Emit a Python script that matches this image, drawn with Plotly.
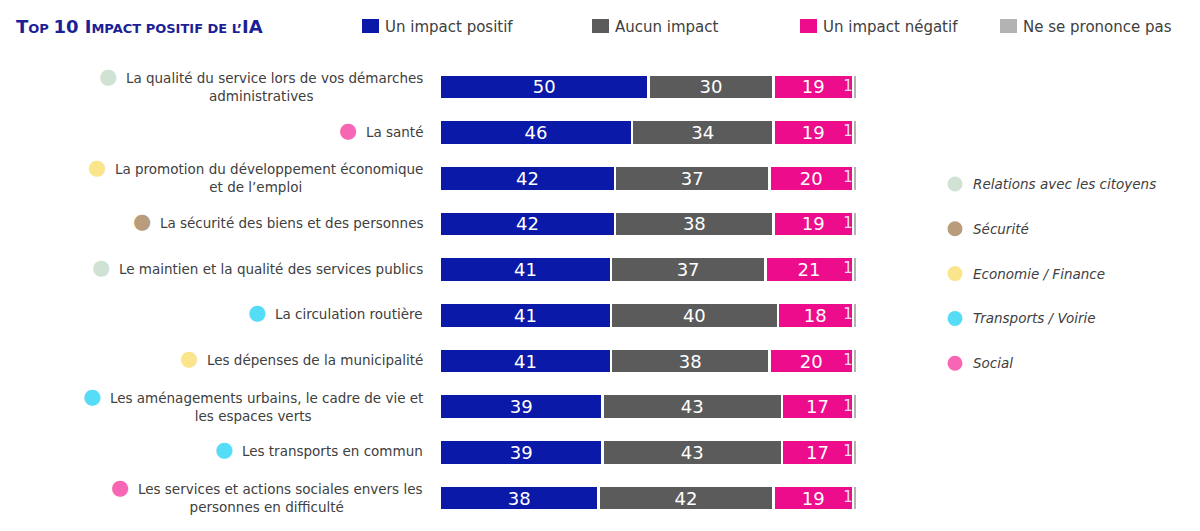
import plotly.graph_objects as go

W, H = 1200, 531

categories = [
    "La qualité du service lors de vos démarches<br>administratives",
    "La santé",
    "La promotion du développement économique<br>et de l’emploi",
    "La sécurité des biens et des personnes",
    "Le maintien et la qualité des services publics",
    "La circulation routière",
    "Les dépenses de la municipalité",
    "Les aménagements urbains, le cadre de vie et<br>les espaces verts",
    "Les transports en commun",
    "Les services et actions sociales envers les<br>personnes en difficulté",
]
category_theme = ["Relations avec les citoyens", "Social", "Economie / Finance", "Sécurité",
                  "Relations avec les citoyens", "Transports / Voirie", "Economie / Finance",
                  "Transports / Voirie", "Transports / Voirie", "Social"]

positif = [50, 46, 42, 42, 41, 41, 41, 39, 39, 38]
aucun = [30, 34, 37, 38, 37, 40, 38, 43, 43, 42]
negatif = [19, 19, 20, 19, 21, 18, 20, 17, 17, 19]
nsp = [1, 1, 1, 1, 1, 1, 1, 1, 1, 1]

series_names = ["Un impact positif", "Aucun impact", "Un impact négatif", "Ne se prononce pas"]
series_colors = ["#0a19a8", "#5b5b5b", "#ec0c8c", "#b3b3b3"]

theme_names = ["Relations avec les citoyens", "Sécurité", "Economie / Finance",
               "Transports / Voirie", "Social"]
theme_colors = ["#cfe2d4", "#b89c7b", "#fbe58c", "#55dcf7", "#f766b5"]
theme_color = dict(zip(theme_names, theme_colors))

FONT = "DejaVu Sans"
TXT = "#404040"

ypos = list(range(len(categories)))
fig = go.Figure()
for name, vals, col in zip(series_names, [positif, aucun, negatif, nsp], series_colors):
    show_text = name != "Ne se prononce pas"
    fig.add_trace(go.Bar(
        y=ypos, x=vals, orientation="h", name=name,
        marker=dict(color=col, line=dict(color="white", width=2.5)),
        text=[str(v) for v in vals] if show_text else None,
        textposition="inside", insidetextanchor="middle", constraintext="none",
        textfont=dict(family=FONT, size=18, color="white"),
        showlegend=False, hoverinfo="skip",
    ))

# small "1" labels for the "ne se prononce pas" share
cum3 = [a + b + c for a, b, c in zip(positif, aucun, negatif)]
fig.add_trace(go.Scatter(
    x=cum3, y=ypos, mode="text", text=[str(v) for v in nsp],
    textposition="middle left", textfont=dict(family=FONT, size=15, color="#f2dbe7"),
    showlegend=False, hoverinfo="skip",
))

x0p, x1p = 440, 857
ytop, ybot = 64, 521
fig.update_layout(
    width=W, height=H, margin=dict(l=0, r=0, t=0, b=0),
    paper_bgcolor="white", plot_bgcolor="white",
    barmode="stack", bargap=0.45,
    xaxis=dict(domain=[x0p / W, x1p / W], range=[0, 100], visible=False, fixedrange=True),
    yaxis=dict(domain=[1 - ybot / H, 1 - ytop / H], range=[len(categories) - 0.5, -0.5],
               visible=False, fixedrange=True),
    font=dict(family=FONT, color=TXT),
)

ann = []
# category labels with theme dots
for i, (cat, th) in enumerate(zip(categories, category_theme)):
    txt = (f"<span style='color:{theme_color[th]};font-size:21px'>●</span>  " + cat)
    ann.append(dict(x=425 / W, xref="paper", y=i, yref="y", yshift=3, text=txt, showarrow=False,
                    xanchor="right", yanchor="middle", align="center",
                    font=dict(family=FONT, size=13.5, color=TXT)))

# title (small caps emulation)
big, small = 18, 13
title = (f"<b><span style='font-size:{big}px'>T</span>OP <span style='font-size:{big}px'>10 I</span>"
         f"MPACT POSITIF DE L’<span style='font-size:{big}px'>IA</span></b>")
ann.append(dict(x=14 / W, xref="paper", y=1 - 27 / H, yref="paper", text=title,
                showarrow=False, xanchor="left", yanchor="middle",
                font=dict(family=FONT, size=small, color="#1c1f95")))

# top legend
leg_x = [362, 592, 800, 1000]
shapes = []
for name, col, lx in zip(series_names, series_colors, leg_x):
    shapes.append(dict(type="rect", xref="paper", yref="paper",
                       x0=lx / W, x1=(lx + 17) / W, y0=1 - 33 / H, y1=1 - 19 / H,
                       fillcolor=col, line=dict(width=0)))
    ann.append(dict(x=(lx + 21) / W, xref="paper", y=1 - 27 / H, yref="paper", text=name,
                    showarrow=False, xanchor="left", yanchor="middle",
                    font=dict(family=FONT, size=15, color=TXT)))

# right theme legend
for k, (name, col) in enumerate(zip(theme_names, theme_colors)):
    yy = 184 + k * 44.8
    shapes.append(dict(type="circle", xref="paper", yref="paper",
                       x0=(955 - 7.5) / W, x1=(955 + 7.5) / W,
                       y0=1 - (yy + 7.5) / H, y1=1 - (yy - 7.5) / H,
                       fillcolor=col, line=dict(width=0)))
    ann.append(dict(x=971 / W, xref="paper", y=1 - yy / H, yref="paper",
                    text=f"<i>{name}</i>", showarrow=False, xanchor="left", yanchor="middle",
                    font=dict(family=FONT, size=13.5, color=TXT)))

fig.update_layout(annotations=ann, shapes=shapes)
fig.write_html("out.html")
